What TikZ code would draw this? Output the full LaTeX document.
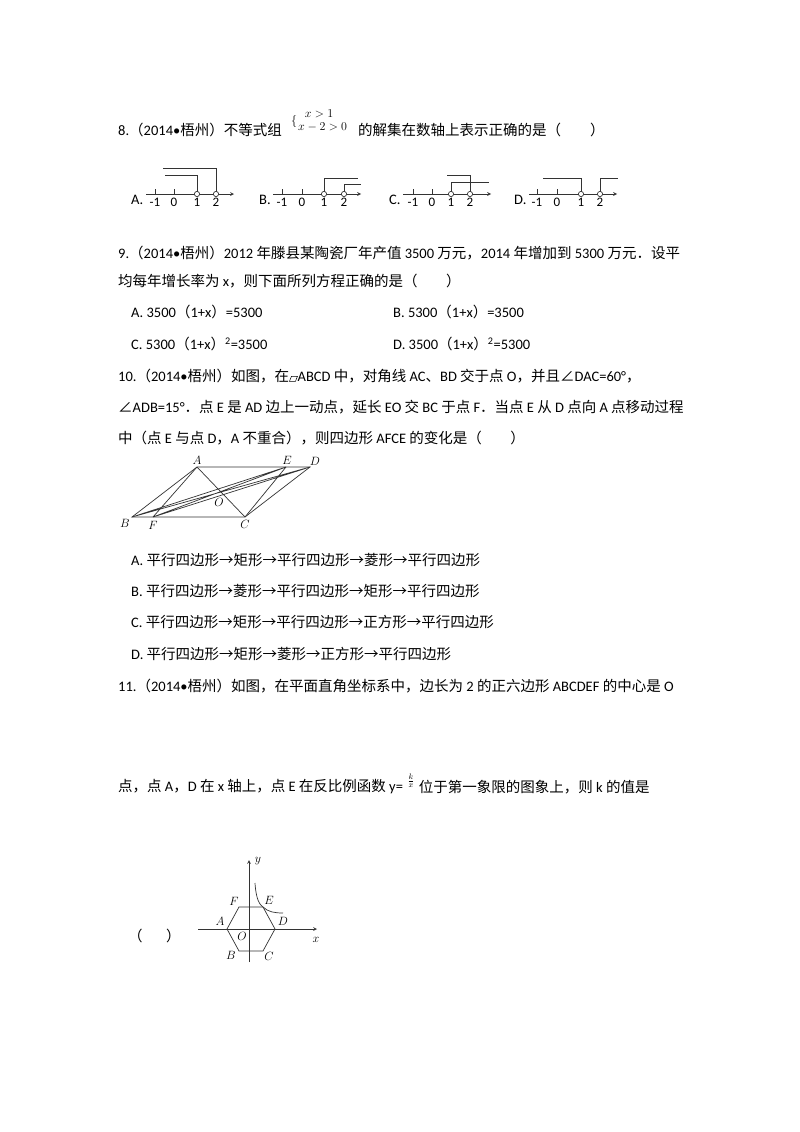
\documentclass[tikz,border=0pt]{standalone}
\usepackage{fontspec}
\setmainfont{Carlito}
\newfontfamily\cj{Noto Sans CJK SC}
\newXeTeXintercharclass\cjkcls
\newcount\cc
\cc="4E00 \loop \XeTeXcharclass\cc=\cjkcls \advance\cc 1 \ifnum\cc<"A000 \repeat
\cc="3000 \loop \XeTeXcharclass\cc=\cjkcls \advance\cc 1 \ifnum\cc<"3040 \repeat
\cc="FF00 \loop \XeTeXcharclass\cc=\cjkcls \advance\cc 1 \ifnum\cc<"FFF0 \repeat
\XeTeXcharclass"2220=\cjkcls
\XeTeXcharclass"2192=\cjkcls
\XeTeXinterchartokenstate=1
\XeTeXinterchartoks 0 \cjkcls = {\cj}
\XeTeXinterchartoks 4095 \cjkcls = {\cj}
\XeTeXinterchartoks \cjkcls 0 = {\rmfamily}
\XeTeXinterchartoks 4095 0 = {\rmfamily}
\newcommand\pgram{\tikz[baseline=0pt,x=1pt,y=1pt]\draw[line width=0.5pt] (0,0)--(6,0)--(8,5)--(2,5)--cycle;}
\tikzset{
 txt/.style={anchor=west,inner sep=0pt,font=\fontsize{14.5}{17}\selectfont},
 fig/.style={line width=0.7pt,black!80},
 lab/.style={inner sep=0pt,font=\fontsize{13}{15}\selectfont}
}
\begin{document}
\begin{tikzpicture}[x=1pt,y=-1pt]
\useasboundingbox[fill=white] (0,0) rectangle (800,1132);
% Q8
\node[txt] (q8a) at (118,130) {8.（2014•梧州）不等式组};
\node[txt,font=\fontsize{13}{15}\selectfont] (q8s) at (291,121) {$\{\!\!\begin{array}{l}\;\;x>1\\[-3pt] x-2>0\end{array}$};
\node[txt] (q8b) at (358,130) {的解集在数轴上表示正确的是（};
\node[txt] (q8c) at (590,130) {）};
% number lines
\foreach \n/\lx in {A/131,B/259,C/389,D/514}{
  \node[txt] (nl\n) at (\lx,200) {\n.};
}
\newcommand\nline[5]{%
  \draw[fig,->,>=stealth] (#1,194) -- (#1+88,194);
  \foreach \t in {#2,#3}{\draw[fig] (\t,194) -- (\t,189);}
  \node[lab] at (#2,202) {-1}; \node[lab] at (#3,202) {0};
  \node[lab] at (#4,202) {1}; \node[lab] at (#5,202) {2};
}
\nline{146}{155}{174}{197}{216}
\draw[fig] (197,194) -- (197,175) -- (165,175);
\draw[fig] (216,194) -- (216,168) -- (163,168);
\draw[fig,fill=white] (197,194) circle (2.6); \draw[fig,fill=white] (216,194) circle (2.6);
\nline{273}{282}{302}{324}{344}
\draw[fig] (324,194) -- (324,178) -- (358,178);
\draw[fig] (344,194) -- (344,184) -- (361,184);
\draw[fig,fill=white] (324,194) circle (2.6); \draw[fig,fill=white] (344,194) circle (2.6);
\nline{403}{413}{432}{451}{470}
\draw[fig] (451,194) -- (451,182) -- (489,182);
\draw[fig] (470,194) -- (470,175) -- (447,175);
\draw[fig,fill=white] (451,194) circle (2.6); \draw[fig,fill=white] (470,194) circle (2.6);
\nline{529}{537}{557}{581}{600}
\draw[fig] (581,194) -- (581,178) -- (543,178);
\draw[fig] (600,194) -- (600,178) -- (618,178);
\draw[fig,fill=white] (581,194) circle (2.6); \draw[fig,fill=white] (600,194) circle (2.6);
% Q9
\node[txt] (q9a) at (118,253) {9.（2014•梧州）2012 年滕县某陶瓷厂年产值 3500 万元，2014 年增加到 5300 万元．设平};
\node[txt] (q9b) at (118,281) {均每年增长率为 x，则下面所列方程正确的是（};
\node[txt] (q9c) at ([xshift=28]q9b.east) {）};
\node[txt] (o9a) at (131,312) {A. 3500（1+x）=5300};
\node[txt] (o9b) at (393,312) {B. 5300（1+x）=3500};
\node[txt] (o9c) at (131,344) {C. 5300（1+x）\textsuperscript{2}=3500};
\node[txt] (o9d) at (393,344) {D. 3500（1+x）\textsuperscript{2}=5300};
% Q10
\node[txt] (q10a) at (118,376) {10.（2014•梧州）如图，在\pgram ABCD 中，对角线 AC、BD 交于点 O，并且∠DAC=60°，};
\node[txt] (q10b) at (118,407) {∠ADB=15°．点 E 是 AD 边上一动点，延长 EO 交 BC 于点 F．当点 E 从 D 点向 A 点移动过程};
\node[txt] (q10c) at (118,438) {中（点 E 与点 D，A 不重合），则四边形 AFCE 的变化是（};
\node[txt] (q10d) at ([xshift=28]q10c.east) {）};
\coordinate (A) at (197,467); \coordinate (D) at (310,467);
\coordinate (B) at (132,517); \coordinate (C) at (245,517);
\coordinate (E) at (286,467); \coordinate (F) at (153,517);
\coordinate (O) at (221,492);
\draw[fig] (A) -- (D) -- (C) -- (B) -- cycle;
\draw[fig] (A) -- (C) (B) -- (D) (E) -- (F) (A) -- (F) (C) -- (E) (B) -- (E) (F) -- (D);
\node[lab] (lA) at (197,460) {$A$};
\node[lab] (lE) at (287,460) {$E$};
\node[lab] (lD) at (315,461) {$D$};
\node[lab] (lB) at (125,523) {$B$};
\node[lab] (lF) at (153,525) {$F$};
\node[lab] (lC) at (245,524) {$C$};
\node[lab] (lO) at (219,502) {$O$};
% options 10
\node[txt] (o10a) at (131,560) {A. 平行四边形→矩形→平行四边形→菱形→平行四边形};
\node[txt] (o10b) at (131,591) {B. 平行四边形→菱形→平行四边形→矩形→平行四边形};
\node[txt] (o10c) at (131,622) {C. 平行四边形→矩形→平行四边形→正方形→平行四边形};
\node[txt] (o10d) at (131,654) {D. 平行四边形→矩形→菱形→正方形→平行四边形};
% Q11
\node[txt] (q11a) at (118,686) {11.（2014•梧州）如图，在平面直角坐标系中，边长为 2 的正六边形 ABCDEF 的中心是 O};
\node[txt] (q11b) at (118,787) {点，点 A，D 在 x 轴上，点 E 在反比例函数 y=};
\node[inner sep=0pt,anchor=west] (frac) at ([xshift=4pt,yshift=6pt]q11b.east) {\fontsize{11}{11}\selectfont$\frac{k}{x}$};
\node[txt] (q11c) at ([xshift=4pt]frac.east |- q11b.west) {位于第一象限的图象上，则 k 的值是};
\node[txt] (q11d) at (128,936) {（};
\node[txt] (q11e) at (166,936) {）};
% hexagon
\draw[fig,->,>=stealth] (198,929) -- (317,929);
\draw[fig,->,>=stealth] (249,962) -- (249,860);
\draw[fig] (227,929) -- (239,907) -- (263,907) -- (275,929) -- (263,951) -- (239,951) -- cycle;
\draw[fig] (255,883) .. controls (256,900) and (260,905) .. (263,907) .. controls (268,912) and (275,913) .. (283,913);
\node[lab] at (258,861) {$y$};
\node[lab] at (316,940) {$x$};
\node[lab] at (234,901) {$F$};
\node[lab] at (269,900) {$E$};
\node[lab] at (220,921) {$A$};
\node[lab] at (283,921) {$D$};
\node[lab] at (242,936) {$O$};
\node[lab] at (231,955) {$B$};
\node[lab] at (269,956) {$C$};
\end{tikzpicture}
\end{document}
